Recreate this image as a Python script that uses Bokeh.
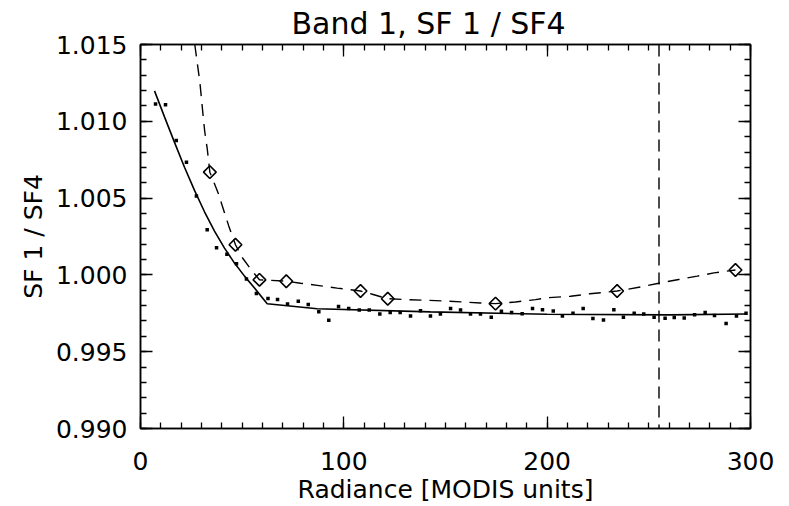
import math
from bokeh.plotting import figure
from bokeh.models import (Range1d, LinearAxis, FixedTicker, Span, NumeralTickFormatter,
                          CustomLabelingPolicy)
from bokeh.embed import file_html
from bokeh.resources import INLINE

# ---- data ----
dot_x = [7.4, 12.3, 17.6, 22.6, 27.5, 32.8, 37.4, 42.5, 47.2, 52.1, 57.0, 62.7, 67.4, 72.3,
         77.6, 82.5, 87.7, 92.6, 97.4, 102.4, 107.6, 112.5, 117.7, 122.8, 127.7, 132.8, 137.7,
         142.6, 147.5, 152.5, 157.4, 162.3, 167.2, 172.5, 177.5, 182.5, 187.7, 192.8, 197.7,
         203.0, 207.5, 212.7, 217.7, 222.5, 227.7, 232.8, 237.5, 242.8, 247.5, 252.6, 258.0,
         262.5, 267.4, 272.5, 277.7, 282.3, 288.0, 293.1, 297.8]
dot_y = [1.01112, 1.01108, 1.00875, 1.00734, 1.00513, 1.00294, 1.00177, 1.00134, 1.00073,
         0.99974, 0.99879, 0.99847, 0.99840, 0.99810, 0.99829, 0.99808, 0.99760, 0.99705,
         0.99794, 0.99781, 0.99771, 0.99771, 0.99745, 0.99755, 0.99755, 0.99732, 0.99766,
         0.99732, 0.99745, 0.99781, 0.99771, 0.99745, 0.99745, 0.99725, 0.99763, 0.99756,
         0.99747, 0.99781, 0.99773, 0.99765, 0.99732, 0.99751, 0.99781, 0.99716, 0.99706,
         0.99773, 0.99725, 0.99751, 0.99745, 0.99725, 0.99718, 0.99722, 0.99719, 0.99740,
         0.99755, 0.99735, 0.99684, 0.99732, 0.99751]

fit_x = [6.89, 11.80, 16.72, 21.64, 26.56, 31.48, 36.39, 41.31, 46.23, 51.15, 56.07, 62.31,
         86.9, 142.6, 200.0, 260.0, 298.0]
fit_y = [1.01198, 1.01029, 1.00863, 1.00701, 1.00550, 1.00411, 1.00285, 1.00174, 1.00077,
         0.99992, 0.99914, 0.99812, 0.99780, 0.99759, 0.99744, 0.99740, 0.99745]

curve_x = [26.7, 29.2, 30.0, 30.8, 31.6, 32.8, 34.1, 38.5, 40.2, 43.4, 46.7, 50.0, 54.1, 58.5,
           71.7, 78.7, 86.9, 96.7, 108.2, 114.0, 121.6, 131.2, 140.2, 149.2, 158.2, 167.2,
           174.6, 184.4, 194.3, 200.8, 211.5, 221.0, 234.4, 245.9, 254.9, 264.7, 273.8, 282.0, 292.6]
curve_y = [1.0150, 1.01254, 1.01146, 1.01035, 1.00932, 1.00824, 1.00669, 1.00523, 1.00450,
           1.00319, 1.00196, 1.00114, 1.00039, 0.99968, 0.99959, 0.99946, 0.99932, 0.99914,
           0.99895, 0.99874, 0.99845, 0.99839, 0.99835, 0.99830, 0.99824, 0.99817, 0.99813,
           0.99824, 0.99839, 0.99852, 0.99861, 0.99877, 0.99895, 0.99921, 0.99946, 0.99970,
           0.99992, 1.00013, 1.00032]

diam_x = [34.1, 46.7, 58.5, 71.7, 108.2, 121.6, 174.6, 234.4, 292.6]
diam_y = [1.00669, 1.00196, 0.99968, 0.99959, 0.99895, 0.99845, 0.99813, 0.99895, 1.00032]

vline_x = 255.0

x_ticks = [0, 100, 200, 300]
x_minor = [v for v in range(0, 301, 10)]
y_ticks = [0.990, 0.995, 1.000, 1.005, 1.010, 1.015]
y_minor = [round(0.990 + 0.001 * i, 3) for i in range(26)]

FONT = "DejaVu Sans"

p = figure(width=780, height=506, output_backend="svg", toolbar_location=None,
           x_range=Range1d(0, 300), y_range=Range1d(0.990, 1.015),
           min_border_left=140, min_border_right=30, min_border_top=44, min_border_bottom=74,
           title="Band 1, SF 1 / SF4")
p.grid.visible = False
p.outline_line_color = "black"
p.outline_line_width = 1.5
p.background_fill_color = "white"
p.border_fill_color = "white"

p.title.text_font = FONT
p.title.text_font_size = "30px"
p.title.text_font_style = "normal"
p.title.align = "left"
p.title.offset = 151
p.title.text_color = "black"
p.title.standoff = 3
p.title.vertical_align = "top"

xt = FixedTicker(ticks=x_ticks, minor_ticks=x_minor)
yt = FixedTicker(ticks=y_ticks, minor_ticks=y_minor)

def style(ax, labels=True):
    ax.axis_line_color = "black"
    ax.axis_line_width = 1.5
    ax.major_tick_in = 12
    ax.major_tick_out = 0
    ax.minor_tick_in = 6
    ax.minor_tick_out = 0
    ax.major_tick_line_color = "black"
    ax.minor_tick_line_color = "black"
    ax.major_tick_line_width = 1.3
    ax.minor_tick_line_width = 1.3
    ax.major_label_text_font = FONT
    ax.major_label_text_color = "black"
    ax.axis_label_text_font = FONT
    ax.axis_label_text_font_style = "normal"
    ax.axis_label_text_color = "black"
    if labels:
        ax.major_label_text_font_size = "25px"
        ax.axis_label_text_font_size = "25px"
    else:
        ax.major_label_text_font_size = "0px"
        ax.major_label_standoff = 0
        ax.major_label_policy = CustomLabelingPolicy(code="return [];")

p.xaxis.ticker = xt
p.yaxis.ticker = yt
p.yaxis.formatter = NumeralTickFormatter(format="0.000")
p.xaxis.axis_label = "Radiance [MODIS units]"
p.yaxis.axis_label = "SF 1 / SF4"
style(p.xaxis[0])
style(p.yaxis[0])
p.xaxis.major_label_standoff = 23
p.yaxis.major_label_standoff = 13
p.xaxis.axis_label_standoff = 2
p.yaxis.axis_label_standoff = 5

top = LinearAxis(ticker=xt)
style(top, labels=False)
p.add_layout(top, "above")
right = LinearAxis(ticker=yt)
style(right, labels=False)
p.add_layout(right, "right")

p.scatter(dot_x, dot_y, marker="square", size=3.5, fill_color="black", line_color=None)
p.line(fit_x, fit_y, line_color="black", line_width=1.6)
p.line(curve_x, curve_y, line_color="black", line_width=1.4, line_dash="12 8")
p.scatter(diam_x, diam_y, marker="square", angle=math.pi / 4, size=9, fill_color=None,
          line_color="black", line_width=1.6)
p.add_layout(Span(location=vline_x, dimension="height", line_color="black",
                  line_width=1.4, line_dash="12 7"))

open("out.html", "w").write(file_html(p, INLINE))
